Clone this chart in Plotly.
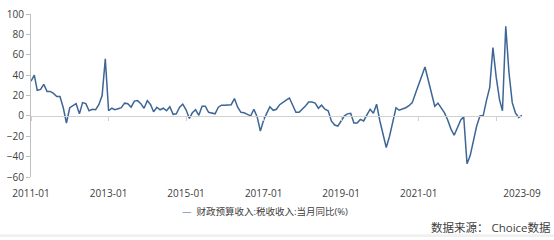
import pandas as pd
import plotly.graph_objects as go

# ---- data ----
start_month = "2011-01"
values = [
    34, 40, 25, 26, 31, 24, 24, 22, 19, 19, 8, -7,          # 2011
    8, 10, 12, 2, 13, 12, 5, 6.5, 6, 11, 20, 56,            # 2012
    5, 7.5, 6, 7, 8, 12.5, 12, 8.5, 14.5, 15, 12, 7.5,      # 2013
    15, 11, 4, 8.5, 6, 7.5, 5, 9, 1.5, 2, 8.5, 11.5,        # 2014
    6, -2.5, 3, 6, 0.5, 9.5, 9.5, 3.5, 3, 2, 8.5, 10.5,     # 2015
    10.5, 10.5, 11, 17, 8.5, 3.5, 3, 1.5, 0, 6.5, -1, -15,  # 2016
    -4, 3, 9, 5.5, 6.5, 11, 13.5, 15.5, 17.5, 10, 3.5, 3.5, # 2017
    6.5, 10, 13.5, 13.5, 12.5, 7.5, 10.5, 6.5, 5, -5, -9, -10,  # 2018
    -5, 0, 2, 2.5, -7, -7, -3.5, -5, 1, 6.5, 2.5, 11.5,     # 2019
    -5, -18, -31, -20, -7, 8, 5.5, 6.5, 8, 10, 13, 22,      # 2020
    32, 40, 48, 35, 21, 9.5, 12.5, 8, 3, -4, -13, -19,      # 2021
    -11, -4, -1, -47, -39, -24, -10, 0, 0.5, 15, 28, 67,    # 2022
    38, 16, 5, 88, 43, 13, 3, -1.5, 0.5,                    # 2023-01..2023-09
]
series_name = "财政预算收入:税收收入:当月同比(%)"
label_months = ["2011-01", "2013-01", "2015-01", "2017-01", "2019-01", "2021-01", "2023-09"]
tick_months = ["2011-01", "2013-01", "2015-01", "2017-01", "2019-01", "2021-01", "2023-01"]
y_ticks = [-60, -40, -20, 0, 20, 40, 60, 80, 100]
source_text = "数据来源： Choice数据"

dates = pd.date_range(start_month + "-01", periods=len(values), freq="MS")
line_color = "#3d6596"
axis_color = "#bfbfbf"
text_color = "#404040"
font_family = "Open Sans, Noto Sans CJK SC, sans-serif"

fig = go.Figure()
fig.add_trace(go.Scatter(
    x=dates, y=values, mode="lines", name=series_name,
    line=dict(color=line_color, width=1.5), showlegend=False,
))

x_range = [dates[0], dates[-1]]
fig.update_layout(
    width=554, height=240,
    margin=dict(l=31, r=32, t=6, b=63),
    paper_bgcolor="white", plot_bgcolor="white",
    font=dict(family=font_family, size=10, color=text_color),
    xaxis=dict(
        range=x_range, showgrid=False, zeroline=False, showline=False,
        tickvals=[m + "-01" for m in label_months], ticktext=label_months,
        ticks="", tickfont=dict(size=10, color=text_color),
        ticklabelstandoff=9, ticklabeloverflow="allow",
    ),
    xaxis2=dict(
        overlaying="x", matches="x", anchor="free", position=60 / 160,
        range=x_range, showgrid=False, zeroline=False, showline=True,
        linecolor="#d0d0d0", linewidth=1,
        tickvals=[m + "-01" for m in tick_months], ticks="outside",
        ticklen=4, tickcolor="#d0d0d0", showticklabels=False,
    ),
    yaxis=dict(
        range=[-60, 100], tickvals=y_ticks, showgrid=False, zeroline=False,
        showline=True, linecolor=axis_color, linewidth=1,
        ticks="outside", ticklen=4, tickcolor=axis_color,
        tickfont=dict(size=10, color=text_color), ticklabeloverflow="allow",
    ),
    annotations=[
        dict(
            xref="paper", yref="paper", x=0.4766, y=0, yshift=-34,
            xanchor="center", yanchor="middle", showarrow=False,
            text=f"<span style='color:{line_color}'>—</span>  {series_name}",
            font=dict(size=9.5, color=text_color),
        ),
        dict(
            xref="paper", yref="paper", x=1, xshift=31, y=0, yshift=-50,
            xanchor="right", yanchor="middle", showarrow=False,
            text=source_text, font=dict(size=11.5, color=text_color),
        ),
    ],
    shapes=[
        # light grey strip along the bottom edge of the picture
        dict(type="rect", xref="paper", yref="paper",
             x0=-31 / 491, x1=1 + 32 / 491, y0=-63 / 171, y1=-60 / 171,
             fillcolor="#f0f0f0", line=dict(width=0), layer="below"),
    ],
)
# invisible helper trace so the zero-line axis (xaxis2) is rendered
fig.add_trace(go.Scatter(x=[dates[0]], y=[0], xaxis="x2", mode="markers",
                         marker=dict(opacity=0), showlegend=False, hoverinfo="skip"))

fig.write_html("out.html")
